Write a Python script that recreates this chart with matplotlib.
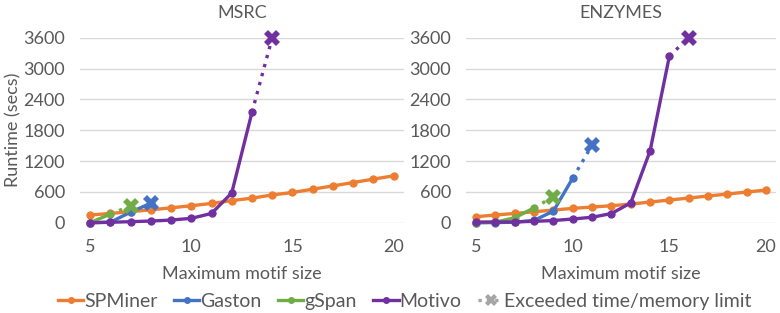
import numpy as np
import matplotlib.pyplot as plt
from matplotlib.lines import Line2D

plt.rcParams['font.family'] = ['Lato', 'DejaVu Sans']

# ------------------------------------------ DATA ------------------------------------------
sizes = list(range(5, 21))

# MSRC
msrc_spminer = [150, 180, 215, 250, 290, 330, 375, 430, 478, 540, 588, 652, 716, 782, 848, 912]
msrc_gaston_x = [5, 6, 7, 8]
msrc_gaston = [0, 10, 205, 380]
msrc_gspan_x = [5, 6]
msrc_gspan = [0, 168]
msrc_motivo_x = [5, 6, 7, 8, 9, 10, 11, 12, 13]
msrc_motivo = [0, 8, 20, 32, 52, 85, 180, 580, 2150]
# exceeded time/memory limit points: (series, size, runtime)
msrc_exceeded = [('gSpan', 7, 330), ('Gaston', 8, 380), ('Motivo', 14, 3600)]

# ENZYMES
enz_spminer = [117, 150, 180, 213, 246, 279, 305, 330, 363, 402, 441, 480, 519, 558, 597, 636]
enz_gaston_x = [5, 6, 7, 8, 9, 10]
enz_gaston = [0, 2, 10, 45, 225, 868]
enz_gspan_x = [5, 6, 7, 8]
enz_gspan = [0, 12, 95, 290]
enz_motivo_x = [5, 6, 7, 8, 9, 10, 11, 12, 13, 14, 15]
enz_motivo = [12, 12, 15, 27, 42, 72, 106, 178, 385, 1395, 3243]
enz_exceeded = [('gSpan', 9, 505), ('Gaston', 11, 1510), ('Motivo', 16, 3600)]

yticks = [0, 600, 1200, 1800, 2400, 3000, 3600]
xticks = [5, 10, 15, 20]

colors = {'SPMiner': '#ED7D31', 'Gaston': '#4472C4', 'gSpan': '#70AD47', 'Motivo': '#7030A0'}
textColor = '#595959'
gridColor = '#D9D9D9'
fontSize = 13


def drawPanel(ax, title, spminer, gaston_x, gaston, gspan_x, gspan, motivo_x, motivo, exceeded):
    series = {'SPMiner': (sizes, spminer), 'Gaston': (gaston_x, gaston),
              'gSpan': (gspan_x, gspan), 'Motivo': (motivo_x, motivo)}

    for name, (xs, ys) in series.items():
        ax.plot(xs, ys, color=colors[name], lw=2.4, marker='o', ms=5, clip_on=False, zorder=3)

    # dotted link from the last finished size to the exceeded limit
    for name, x, y in exceeded:
        xs, ys = series[name]
        if xs[-1] != x:
            ax.plot([xs[-1], x], [ys[-1], y], color=colors[name], lw=2.4, ls=(0, (1, 1.8)),
                    clip_on=False, zorder=3)
        ax.plot(x, y, color=colors[name], marker='X', ms=11, mew=0, clip_on=False, zorder=4)

    ax.set_xlim(4.5, 20.5)
    ax.set_ylim(0, 3600)
    ax.set_xticks(xticks)
    ax.set_yticks(yticks)
    ax.grid(axis='y', color=gridColor, lw=1)
    ax.set_axisbelow(True)
    for s in ax.spines.values():
        s.set_visible(False)
    ax.tick_params(axis='x', length=0, labelsize=fontSize, colors=textColor, pad=12)
    ax.tick_params(axis='y', length=0, labelsize=fontSize, colors=textColor, pad=11)
    ax.set_title(title, fontsize=fontSize, color=textColor, pad=14)
    ax.set_xlabel('Maximum motif size', fontsize=fontSize, color=textColor, labelpad=8)


fig = plt.figure(figsize=(7.8, 3.13), dpi=100)
ax1 = fig.add_axes([0.1026, 0.2885, 0.415, 0.591])
ax2 = fig.add_axes([0.598, 0.2885, 0.3965, 0.591])

drawPanel(ax1, 'MSRC', msrc_spminer, msrc_gaston_x, msrc_gaston, msrc_gspan_x, msrc_gspan,
          msrc_motivo_x, msrc_motivo, msrc_exceeded)
drawPanel(ax2, 'ENZYMES', enz_spminer, enz_gaston_x, enz_gaston, enz_gspan_x, enz_gspan,
          enz_motivo_x, enz_motivo, enz_exceeded)
ax1.set_ylabel('Runtime (secs)', fontsize=fontSize, color=textColor, labelpad=1)

# legend along the bottom
handles = [Line2D([], [], color=colors[n], lw=2.4, marker='o', ms=4) for n in colors]
handles.append(Line2D([], [], color='#A5A5A5', lw=2.4, ls=(0, (1, 1.5)), marker='X', ms=9, mew=0))
labels = list(colors.keys()) + ['Exceeded time/memory limit']
fig.legend(handles, labels, loc='center', bbox_to_anchor=(0.519, 0.038), ncol=5, frameon=False,
           fontsize=14, labelcolor=textColor, handlelength=1.3, handletextpad=0.05,
           columnspacing=0.85)

fig.savefig('out.png', dpi=100)
